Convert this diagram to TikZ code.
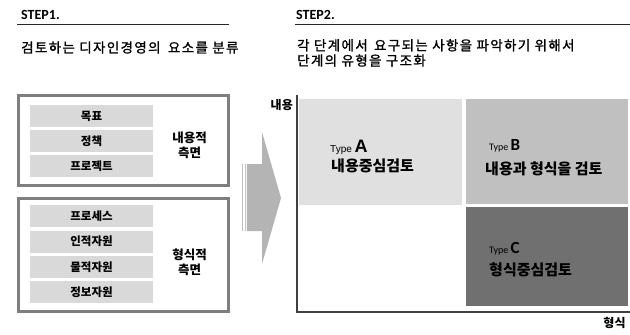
\documentclass[tikz,border=0pt]{standalone}
\usepackage{fontspec}
\setmainfont{Noto Sans CJK KR}
\newfontfamily\krhead{Noto Sans CJK KR}[FakeBold=1.2, LetterSpace=10]
\newfontfamily\arialf{Liberation Sans}
\newfontfamily\calf{Carlito}
\definecolor{boxgray}{HTML}{7F7F7F}
\definecolor{rowgray}{HTML}{D9D9D9}
\definecolor{arrowgray}{HTML}{B4B4B4}
\definecolor{qa}{HTML}{E0E0E0}
\definecolor{qb}{HTML}{C0C0C0}
\definecolor{qc}{HTML}{707070}
\definecolor{axisgray}{HTML}{404040}
\begin{document}
\begin{tikzpicture}[x=1pt,y=-1pt,
  outerbox/.style={draw=boxgray, line width=2.6pt, minimum width=210.4pt, inner sep=0pt},
  rowbox/.style={fill=rowgray, minimum width=123pt, minimum height=22pt, inner sep=0pt,
    font=\fontsize{11.5}{13}\selectfont\bfseries},
  sidelabel/.style={align=center, inner sep=0pt, font=\fontsize{12.5}{15}\selectfont\bfseries},
  steptitle/.style={anchor=base west, inner sep=0pt, font=\calf\fontsize{14}{16}\selectfont\bfseries},
  headtext/.style={anchor=west, inner sep=0pt, font=\krhead\fontsize{13.5}{15}\selectfont},
  quad/.style={inner sep=0pt},
  typelabel/.style={anchor=base west, inner sep=0pt},
  typetitle/.style={anchor=west, inner sep=0pt, font=\fontsize{15}{17}\selectfont\bfseries},
  axislabel/.style={inner sep=0pt, font=\fontsize{12}{14}\selectfont\bfseries},
  rulerline/.style={draw=black!85, line width=1pt},
  axisline/.style={draw=axisgray, line width=1.1pt}
]
\useasboundingbox (0,0) rectangle (630,335);

% STEP1
\node[steptitle] (s1) at (21,19) {STEP1.};
\coordinate (s1l) at (17,24);
\coordinate (s1r) at (229,24);
\draw[rulerline] (s1l) -- (s1r);
\node[headtext] (h1) at (21,47.5) {검토하는 디자인경영의\hspace{3pt} 요소를 분류};

% STEP2
\node[steptitle] (s2) at (296,19) {STEP2.};
\coordinate (s2l) at (295,24);
\coordinate (s2r) at (630,24);
\draw[rulerline] (s2l) -- (s2r);
\node[headtext] (h2a) at (297,45.3) {각 단계에서\hspace{2pt} 요구되는 사항을 파악하기 위해서};
\node[headtext] (h2b) at (297,60.5) {단계의 유형을 구조화};

% Box 1
\node[outerbox, minimum height=90.4pt] (b1) at (123.5,140.5) {};
\node[rowbox] (r11) at (91.5,116) {목표};
\node[rowbox] (r12) at (91.5,141) {정책};
\node[rowbox] (r13) at (91.5,166) {프로젝트};
\node[sidelabel] (l1) at (189.5,145.5) {내용적\\측면};

% Box 2
\node[outerbox, minimum height=113.4pt] (b2) at (123.5,255) {};
\node[rowbox] (r21) at (91.5,216) {프로세스};
\node[rowbox] (r22) at (91.5,241.5) {인적자원};
\node[rowbox] (r23) at (91.5,267) {물적자원};
\node[rowbox] (r24) at (91.5,292) {정보자원};
\node[sidelabel] (l2) at (189.5,262) {형식적\\측면};

% Arrow
\fill[arrowgray] (246.8,164) -- (262,164) -- (262,132) -- (281,198) -- (262,264) -- (262,231) -- (246.8,231) -- cycle;
\fill[arrowgray!80] (242.2,164) rectangle (243.4,231);
\fill[arrowgray!80] (244.5,164) rectangle (245.7,231);

% Quadrants
\node[quad, fill=qa, minimum width=163pt, minimum height=106pt] (qA) at (380.5,152) {};
\node[quad, fill=qb, minimum width=162pt, minimum height=105pt] (qB) at (547,151.5) {};
\node[quad, fill=qc, minimum width=162pt, minimum height=99pt] (qC) at (547,256.5) {};

% Axes
\coordinate (axtop) at (297,95);
\coordinate (ax0) at (297,312);
\coordinate (axright) at (630,312);
\draw[axisline] (axtop) -- (ax0) -- (axright);
\node[axislabel, anchor=east] (ylab) at (293,105.5) {내용};
\node[axislabel] (xlab) at (614.5,322.5) {형식};

% Type labels
\node[typelabel] (tA) at (330,152) {\arialf\fontsize{10}{12}\selectfont Type \fontsize{18}{20}\selectfont\bfseries A};
\node[typetitle] (nA) at (331,166) {내용중심검토};
\node[typelabel] (tB) at (489,150) {\calf\fontsize{10}{12}\selectfont Type \fontsize{17}{19}\selectfont\bfseries B};
\node[typetitle] (nB) at (485,168.5) {내용과 형식을 검토};
\node[typelabel] (tC) at (489,253) {\calf\fontsize{10}{12}\selectfont Type \fontsize{17}{19}\selectfont\bfseries C};
\node[typetitle] (nC) at (489,270) {형식중심검토};
\end{tikzpicture}
\end{document}
